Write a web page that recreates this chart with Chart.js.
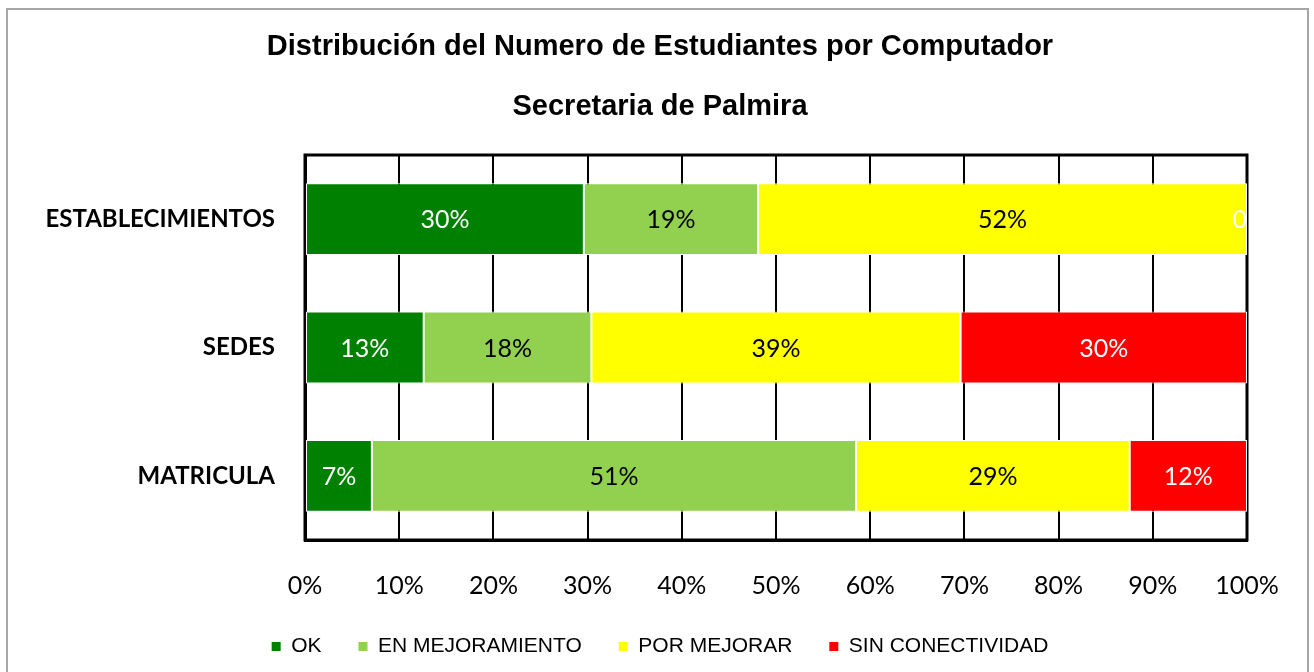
<!DOCTYPE html>
<html>
<head>
<meta charset="utf-8">
<script src="https://cdn.jsdelivr.net/npm/chart.js@4.4.1/dist/chart.umd.min.js"></script>
<style>
  html, body { margin: 0; padding: 0; background: #fff; }
  #wrap { position: relative; width: 1314px; height: 672px; overflow: hidden; }
  #frame { position: absolute; left: 6px; top: 8px; width: 1299px; height: 700px; border: 2px solid #a6a6a6; pointer-events: none; }
  canvas { position: absolute; left: 0; top: 0; }
</style>
</head>
<body>
<div id="wrap">
  <canvas id="chart" width="1314" height="672"></canvas>
  <div id="frame"></div>
</div>
<script>
// categories and series (percent of each row)
var categories = ['ESTABLECIMIENTOS', 'SEDES', 'MATRICULA'];
var okValues = [29.6, 12.6, 7.1];
var mejoramientoValues = [18.5, 17.8, 51.4];
var porMejorarValues = [51.9, 39.2, 29.05];
var sinConectividadValues = [0, 30.4, 12.45];
var xTicks = [0, 10, 20, 30, 40, 50, 60, 70, 80, 90, 100];

var titleLines = ['Distribución del Numero de Estudiantes por Computador', 'Secretaria de Palmira'];

// white text on dark fills, black on light fills
var labelColors = ['#ffffff', '#000000', '#000000', '#ffffff'];

// border around the plot area, drawn under the bars
var plotBorder = {
    id: 'plotBorder',
    beforeDatasetsDraw: function(chart) {
        var a = chart.chartArea, c = chart.ctx;
        c.save();
        c.strokeStyle = '#000';
        c.lineWidth = 3;
        c.strokeRect(a.left, a.top, a.right - a.left, a.bottom - a.top);
        c.restore();
    }
};

// value labels in the middle of each segment
var barLabels = {
    id: 'barLabels',
    afterDatasetsDraw: function(chart) {
        var c = chart.ctx, area = chart.chartArea;
        c.save();
        c.font = '25px Lato';
        c.textAlign = 'center';
        c.textBaseline = 'middle';
        chart.data.datasets.forEach(function(ds, di) {
            var meta = chart.getDatasetMeta(di);
            meta.data.forEach(function(bar, i) {
                var v = ds.data[i];
                var txt = v === 0 ? '0' : Math.round(v) + '%';
                var w = c.measureText(txt).width;
                var x = (bar.x + bar.base) / 2;
                if (x + w / 2 > area.right) x = area.right - w / 2;
                c.fillStyle = labelColors[di];
                c.fillText(txt, x, bar.y + 1);
            });
        });
        c.restore();
    }
};

function makeSet(label, data, color) {
    return {
        label: label,
        data: data,
        backgroundColor: color,
        borderColor: '#ffffff',
        borderWidth: 1,
        borderSkipped: false,
        barPercentage: 0.56,
        categoryPercentage: 1
    };
}

var ctx = document.getElementById('chart').getContext('2d');
var chart = new Chart(ctx, {
    type: 'bar',
    data: {
        labels: categories,
        datasets: [
            makeSet('OK', okValues, '#008000'),
            makeSet('EN MEJORAMIENTO', mejoramientoValues, '#92d050'),
            makeSet('POR MEJORAR', porMejorarValues, '#ffff00'),
            makeSet('SIN CONECTIVIDAD', sinConectividadValues, '#ff0000')
        ]
    },
    options: {
        indexAxis: 'y',
        responsive: false,
        animation: false,
        layout: { padding: { left: 30, right: 24, top: 0, bottom: 5 } },
        scales: {
            x: {
                stacked: true,
                min: 0,
                max: 100,
                afterBuildTicks: function(scale) {
                    scale.ticks = xTicks.map(function(v) { return { value: v }; });
                },
                afterFit: function(scale) { scale.height = 59; },
                grid: { color: '#000', lineWidth: 2, drawTicks: false },
                border: { display: true, color: '#000', width: 3 },
                ticks: {
                    padding: 31,
                    color: '#000',
                    font: { family: 'Lato', size: 25 },
                    callback: function(v) { return v + '%'; }
                }
            },
            y: {
                stacked: true,
                afterFit: function(scale) { scale.width = 275; },
                grid: { display: false },
                border: { display: true, color: '#000', width: 3 },
                ticks: {
                    padding: 22,
                    color: '#000',
                    font: { family: 'Lato', size: 24, weight: 'bold' }
                }
            },
            // empty right-hand strip so the plot ends where the reference does
            spacer: {
                type: 'linear',
                position: 'right',
                afterFit: function(scale) { scale.width = 43; },
                grid: { display: false },
                border: { display: false },
                ticks: { display: false }
            }
        },
        plugins: {
            title: {
                display: true,
                text: titleLines,
                color: '#000',
                font: { family: 'Liberation Sans', size: 29, weight: 'bold', lineHeight: '60px' },
                padding: { top: 17, bottom: 18 }
            },
            legend: {
                position: 'bottom',
                labels: {
                    color: '#000',
                    boxWidth: 9,
                    boxHeight: 9,
                    padding: 37,
                    font: { family: 'Liberation Sans', size: 21 },
                    generateLabels: function(ch) {
                        return ch.data.datasets.map(function(ds, i) {
                            return { text: ds.label, fillStyle: ds.backgroundColor, strokeStyle: ds.backgroundColor, lineWidth: 0, datasetIndex: i, fontColor: '#000' };
                        });
                    }
                }
            },
            tooltip: { enabled: false }
        }
    },
    plugins: [plotBorder, barLabels]
});
</script>
</body>
</html>
